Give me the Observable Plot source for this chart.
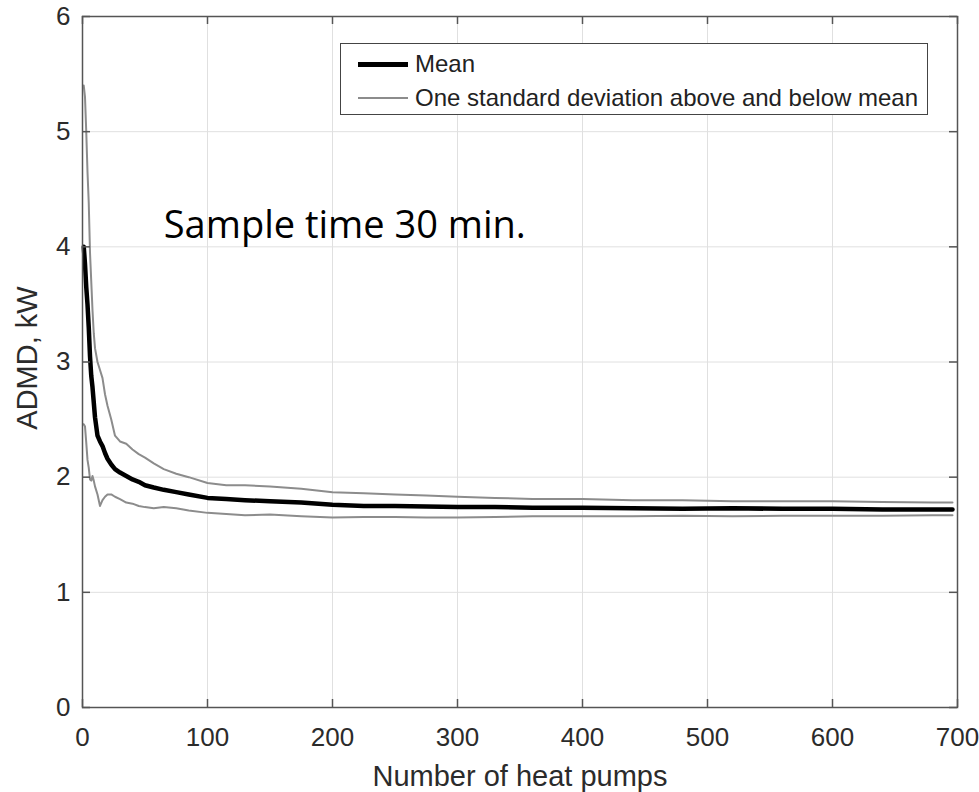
<!DOCTYPE html>
<html><head><meta charset="utf-8">
<script src="https://cdn.jsdelivr.net/npm/d3@7"></script>
<script src="https://cdn.jsdelivr.net/npm/@observablehq/plot@0.6"></script>
<style>
body{margin:0;background:#fff}
#wrap{position:relative;width:979px;height:792px}
#legend{position:absolute;left:340px;top:43px;width:586px;height:70px;border:1.5px solid #444;background:#fff;font-family:"Liberation Sans",Arial,sans-serif;font-size:24px;color:#222}
.row{position:absolute;left:0;height:30px;display:flex;align-items:center;white-space:nowrap}
.sw{width:50px;margin-left:17px;margin-right:7px}
svg text{font-variant-ligatures:none}
</style>
</head><body>
<div id="wrap"><div id="legend"></div></div>
<script>
const pumps =      [1,2,3,4,5,6,7,8,9,10,12,14,16,18,20,23,26,30,35,40,45,50,57,65,75,85,100,115,130,150,175,200,225,250,275,300,330,360,400,440,480,520,560,600,640,680,696];
const meanADMD =   [4.00,3.85,3.65,3.50,3.30,3.05,2.88,2.78,2.65,2.52,2.36,2.31,2.27,2.21,2.16,2.11,2.07,2.04,2.01,1.98,1.96,1.93,1.91,1.89,1.87,1.85,1.82,1.81,1.80,1.79,1.78,1.76,1.75,1.75,1.745,1.74,1.74,1.735,1.735,1.73,1.725,1.73,1.725,1.725,1.72,1.72,1.72];
const upperADMD =  [5.40,5.30,5.00,4.65,4.38,3.95,3.70,3.45,3.25,3.12,3.00,2.93,2.86,2.72,2.62,2.50,2.36,2.31,2.29,2.24,2.20,2.17,2.12,2.07,2.03,2.00,1.95,1.93,1.93,1.92,1.90,1.87,1.86,1.85,1.84,1.83,1.82,1.81,1.81,1.80,1.80,1.79,1.79,1.79,1.785,1.78,1.78];
const lowerADMD =  [2.46,2.44,2.30,2.15,2.08,1.98,1.97,2.01,1.97,1.92,1.85,1.75,1.80,1.83,1.85,1.85,1.83,1.81,1.78,1.77,1.75,1.74,1.73,1.74,1.73,1.71,1.69,1.68,1.67,1.675,1.66,1.65,1.655,1.655,1.65,1.65,1.655,1.66,1.66,1.66,1.665,1.66,1.665,1.665,1.665,1.67,1.67];
const xTicks = [0,100,200,300,400,500,600,700];
const yTicks = [0,1,2,3,4,5,6];
const legendLabels = ["Mean","One standard deviation above and below mean"];
const xLabel = "Number of heat pumps";
const yLabel = "ADMD, kW";
const annotation = "Sample time 30 min.";

const rows = pumps.map((x,i)=>({x, mean:meanADMD[i], upper:upperADMD[i], lower:lowerADMD[i]}));
const frameStroke = "#555";
const chart = Plot.plot({
  width:979, height:792, marginLeft:82, marginRight:22, marginTop:16, marginBottom:85,
  style:{fontFamily:"'Liberation Sans', Arial, sans-serif", background:"#fff", color:"#2b2b2b"},
  x:{domain:[0,700]}, y:{domain:[0,6]},
  marks:[
    Plot.gridX(xTicks,{stroke:"#e0e0e0",strokeOpacity:1}),
    Plot.gridY(yTicks,{stroke:"#e0e0e0",strokeOpacity:1}),
    Plot.text([annotation],{x:65,y:4.08,text:d=>d,textAnchor:"start",lineAnchor:"bottom",fontSize:38,fontFamily:"'Open Sans', sans-serif",fill:"#000"}),
    Plot.line(rows,{x:"x",y:"upper",stroke:"#8c8c8c",strokeWidth:2}),
    Plot.line(rows,{x:"x",y:"lower",stroke:"#8c8c8c",strokeWidth:2}),
    Plot.line(rows,{x:"x",y:"mean",stroke:"#000",strokeWidth:4.5}),
    Plot.frame({stroke:frameStroke,strokeWidth:1.5}),
    Plot.ruleX(xTicks,{x:d=>d,insetTop:683,stroke:frameStroke,strokeWidth:1.5}),
    Plot.ruleX(xTicks,{x:d=>d,insetBottom:683,stroke:frameStroke,strokeWidth:1.5}),
    Plot.ruleY(yTicks,{y:d=>d,insetRight:867,stroke:frameStroke,strokeWidth:1.5}),
    Plot.ruleY(yTicks,{y:d=>d,insetLeft:867,stroke:frameStroke,strokeWidth:1.5}),
    Plot.axisX(xTicks,{tickSize:0,tickPadding:20,fontSize:26,label:null,tickFormat:d=>String(d)}),
    Plot.axisY(yTicks,{tickSize:0,tickPadding:12,fontSize:26,label:null,tickFormat:d=>String(d)}),
    Plot.text([xLabel],{frameAnchor:"bottom",dy:78,lineAnchor:"bottom",textAnchor:"middle",fontSize:29,text:d=>d,fill:"#2b2b2b"}),
    Plot.text([yLabel],{frameAnchor:"left",dx:-55,dy:-4,rotate:-90,textAnchor:"middle",fontSize:29,text:d=>d,fill:"#2b2b2b"})
  ]
});
document.getElementById("wrap").prepend(chart);

const legend = document.getElementById("legend");
const swatchStyles = [{c:"#000",w:5},{c:"#8c8c8c",w:2}];
legendLabels.forEach((lab,i)=>{
  const row = document.createElement("div");
  row.className="row";
  row.style.top = (5 + i*34) + "px";
  const sw = document.createElement("div");
  sw.className="sw";
  sw.style.borderTop = swatchStyles[i].w + "px solid " + swatchStyles[i].c;
  const t = document.createElement("span");
  t.textContent = lab;
  row.append(sw,t);
  legend.append(row);
});
</script>
</body></html>
